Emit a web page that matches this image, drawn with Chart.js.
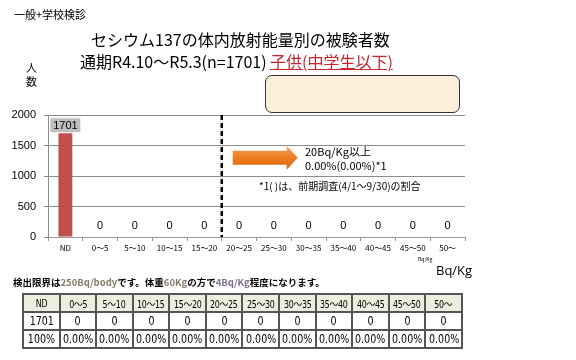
<!DOCTYPE html>
<html><head><meta charset="utf-8">
<script src="https://cdn.jsdelivr.net/npm/chart.js@4/dist/chart.umd.min.js"></script>
<style>
html,body{margin:0;padding:0;background:#fff;width:576px;height:360px;overflow:hidden;}
#wrap{position:relative;width:576px;height:360px;}
canvas{position:absolute;left:0;top:0;}
.t{position:absolute;white-space:nowrap;font-family:"Noto Sans CJK JP",sans-serif;color:#000;line-height:1;}
table{position:absolute;left:22px;top:293px;width:441px;table-layout:fixed;border-collapse:collapse;font-family:"Liberation Sans Narrow","DejaVu Sans Condensed",sans-serif;}
td{border:2px solid #555;text-align:center;padding:0;font-size:12px;height:16px;color:#000;overflow:hidden;white-space:nowrap;}
td span{display:inline-block;transform:scaleX(0.88);}
tr.h td{background:#EEEEDF;font-size:10px;font-family:"DejaVu Sans Condensed","Noto Sans CJK JP",sans-serif;letter-spacing:-0.3px;}
</style></head><body>
<div id="wrap">
<canvas id="c" width="576" height="360"></canvas>
<div class="t" style="left:14px;top:9px;font-size:11px;">一般+学校検診</div>
<div class="t" style="left:91px;top:31px;font-size:16px;">セシウム137の体内放射能量別の被験者数</div>
<div class="t" style="left:80px;top:53px;font-size:16px;">通期R4.10～R5.3(n=1701)</div>
<div class="t" style="left:270px;top:53px;font-size:16px;color:#C0282D;text-decoration:underline;">子供(中学生以下)</div>
<div style="position:absolute;left:265px;top:75px;width:193px;height:36px;border:1px solid #333;border-radius:7px;background:#FBEFD9;"></div>
<div class="t" style="left:26px;top:60px;font-size:11px;line-height:14px;width:12px;">人<br>数</div>
<div class="t" style="left:305px;top:146px;font-size:11px;">20Bq/Kg以上</div>
<div class="t" style="left:305px;top:160px;font-size:11px;">0.00%(0.00%)*1</div>
<div class="t" style="left:259px;top:181px;font-size:10px;">*1( )は、前期調査(4/1～9/30)の割合</div>
<div class="t" style="left:418px;top:256px;font-size:5px;">Bq/Kg</div>
<div class="t" style="left:436px;top:264px;font-size:13px;font-family:'Open Sans',sans-serif;">Bq/Kg</div>
<div class="t" style="left:13px;top:278px;font-size:9.5px;font-weight:bold;">検出限界は<span style="color:#857a66;">250Bq/body</span>です。体重<span style="color:#857a66;">60Kg</span>の方で<span style="color:#7e6f8a;">4Bq/Kg</span>程度になります。</div>
<table id="tbl"></table>
</div>
<script>
const categories = ['ND','0～5','5～10','10～15','15～20','20～25','25～30','30～35','35～40','40～45','45～50','50～'];
const counts = [1701,0,0,0,0,0,0,0,0,0,0,0];
const percents = ['100%','0.00%','0.00%','0.00%','0.00%','0.00%','0.00%','0.00%','0.00%','0.00%','0.00%','0.00%'];
const yMin = 0, yMax = 2000, yStep = 500;

// table
const tbl = document.getElementById('tbl');
[categories, counts.map(String), percents].forEach((row, i) => {
  const tr = document.createElement('tr');
  if (i === 0) tr.className = 'h';
  row.forEach(v => {
    const td = document.createElement('td');
    const sp = document.createElement('span');
    sp.textContent = v;
    td.appendChild(sp);
    tr.appendChild(td);
  });
  tbl.appendChild(tr);
});

const overlay = {
  id: 'overlay',
  afterDatasetsDraw(chart) {
    const ctx = chart.ctx, xs = chart.scales.x, ys = chart.scales.y, ca = chart.chartArea;
    const meta = chart.getDatasetMeta(0);
    ctx.save();
    ctx.font = '11px "Liberation Sans", sans-serif';
    ctx.textAlign = 'center';
    ctx.textBaseline = 'middle';
    meta.data.forEach((bar, i) => {
      const v = counts[i];
      const x = bar.x;
      if (v > 0) {
        const top = bar.y;
        ctx.fillStyle = '#BFBFBF';
        ctx.fillRect(x - 15, top - 15, 30, 14);
        ctx.fillStyle = '#000';
        ctx.fillText(String(v), x, top - 7.5);
      } else {
        ctx.fillStyle = '#000';
        ctx.fillText(String(v), x, ys.getPixelForValue(0) - 11);
      }
    });
    const dx = (xs.getPixelForValue(4) + xs.getPixelForValue(5)) / 2;
    ctx.strokeStyle = '#000';
    ctx.lineWidth = 2.5;
    ctx.setLineDash([5, 3]);
    ctx.beginPath();
    ctx.moveTo(dx, ca.top);
    ctx.lineTo(dx, ca.bottom);
    ctx.stroke();
    ctx.setLineDash([]);
    const ax = dx + 11, ay = ys.getPixelForValue(1300);
    const g = ctx.createLinearGradient(0, ay - 12, 0, ay + 12);
    g.addColorStop(0, '#F9A45A');
    g.addColorStop(0.5, '#EE7E22');
    g.addColorStop(1, '#D9650E');
    ctx.fillStyle = g;
    ctx.beginPath();
    ctx.moveTo(ax, ay - 7);
    ctx.lineTo(ax + 54, ay - 7);
    ctx.lineTo(ax + 54, ay - 12);
    ctx.lineTo(ax + 65, ay);
    ctx.lineTo(ax + 54, ay + 12);
    ctx.lineTo(ax + 54, ay + 7);
    ctx.lineTo(ax, ay + 7);
    ctx.closePath();
    ctx.fill();
    ctx.restore();
  }
};

new Chart(document.getElementById('c'), {
  type: 'bar',
  data: {
    labels: categories,
    datasets: [{
      data: counts,
      backgroundColor: '#C0504D',
      borderWidth: 0,
      categoryPercentage: 1,
      barPercentage: 0.4
    }]
  },
  options: {
    responsive: false,
    animation: false,
    devicePixelRatio: 1,
    layout: { padding: { left: 0, top: 115, right: 111, bottom: 93 } },
    plugins: { legend: { display: false }, tooltip: { enabled: false }, title: { display: false } },
    scales: {
      x: {
        grid: { drawOnChartArea: false, drawTicks: true, tickLength: 4, color: '#999', offset: true },
        border: { color: '#999' },
        ticks: { font: { size: 8, family: '"Noto Sans CJK JP", sans-serif' }, color: '#000', maxRotation: 0, autoSkip: false, padding: 2 },
        afterFit: s => { s.height = 30; }
      },
      y: {
        min: yMin, max: yMax,
        ticks: { stepSize: yStep, font: { size: 11, family: '"Liberation Sans", sans-serif' }, color: '#000', padding: 8, callback: v => String(v) },
        grid: { color: '#8c8c8c', tickLength: 4 },
        border: { color: '#8c8c8c' },
        afterFit: s => { s.width = 48; }
      }
    }
  },
  plugins: [overlay]
});
</script>
</body></html>
